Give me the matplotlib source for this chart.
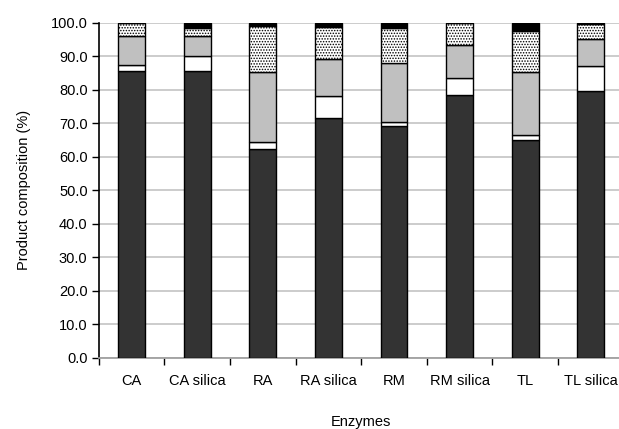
import numpy as np
import matplotlib
matplotlib.use("Agg")
import matplotlib.pyplot as plt
from matplotlib.ticker import FixedLocator

plt.rcParams['font.family'] = ['Liberation Sans', 'DejaVu Sans']
plt.rcParams['hatch.linewidth'] = 0.7

enzymes = ['CA', 'CA silica', 'RA', 'RA silica', 'RM', 'RM silica', 'TL', 'TL silica']

# product composition (%), stacked bottom to top
comp_a = [85.7, 85.5, 62.3, 71.6, 69.3, 78.3, 65.1, 79.5]
comp_b = [1.6, 4.5, 2.1, 6.4, 1.2, 5.1, 1.5, 7.5]
comp_c = [8.8, 6.1, 20.8, 11.1, 17.6, 9.9, 18.6, 8.0]
comp_d = [3.7, 2.4, 13.9, 9.6, 10.4, 6.5, 12.4, 4.5]
comp_e = [0.2, 1.5, 0.9, 1.3, 1.5, 0.2, 2.4, 0.5]

fig = plt.figure(figsize=(6.19, 4.29), dpi=100)
ax = fig.add_axes([98.7 / 619, 71.3 / 429, 525 / 619, 335 / 429])

x = np.arange(len(enzymes))
w = 0.41
bottom = np.zeros(len(enzymes))
styles = [
    dict(color='#333333', edgecolor='black'),
    dict(color='white', edgecolor='black'),
    dict(color='#c0c0c0', edgecolor='black'),
    dict(color='white', edgecolor='black', hatch='......'),
    dict(color='black', edgecolor='black'),
]
for vals, st in zip([comp_a, comp_b, comp_c, comp_d, comp_e], styles):
    ax.bar(x, vals, w, bottom=bottom, linewidth=1.0, zorder=3, **st)
    bottom += np.array(vals)

fs = 10.5
ax.set_xlim(-0.5, len(enzymes) - 0.5)
ax.set_ylim(0, 100)
ax.set_yticks(np.arange(0, 101, 10))
ax.set_yticklabels(['%.1f' % v for v in np.arange(0, 101, 10)], fontsize=fs)
ax.yaxis.grid(True, color='#c8c8c8', linewidth=1.3, zorder=0)
ax.set_axisbelow(True)

ax.set_xticks(x)
ax.set_xticklabels(enzymes, fontsize=fs)
ax.tick_params(axis='x', which='major', length=0, pad=12)
ax.xaxis.set_minor_locator(FixedLocator(np.arange(-0.5, len(enzymes), 1)))
ax.tick_params(axis='x', which='minor', length=5, width=1, color='black')
ax.tick_params(axis='y', length=5, width=1, pad=3)

for s in ['top', 'right']:
    ax.spines[s].set_visible(False)
ax.spines['left'].set_linewidth(1.2)
ax.spines['bottom'].set_color('#a0a0a0')
ax.spines['bottom'].set_linewidth(1.3)

ax.set_ylabel('Product composition (%)', fontsize=fs, labelpad=14)
ax.set_xlabel('Enzymes', fontsize=fs, labelpad=19)

fig.savefig('out.png', dpi=100)
